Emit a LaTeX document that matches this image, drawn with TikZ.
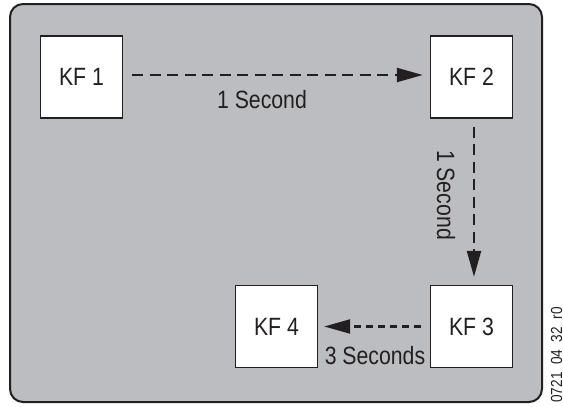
\documentclass[tikz,border=0pt]{standalone}
\usepackage{fontspec}
\setmainfont{Liberation Sans}[FakeStretch=0.85]
\usetikzlibrary{arrows.meta}
\definecolor{panel}{HTML}{BCBDC0}
\definecolor{ink}{HTML}{231F20}
\begin{document}
\begin{tikzpicture}[x=1pt,y=-1pt,
  kfbox/.style={draw=ink,line width=1.4pt,fill=white,minimum width=82pt,minimum height=82pt,inner sep=0pt,text=ink,font=\fontsize{25}{28}\selectfont},
  lbl/.style={text=ink,inner sep=0pt,font=\fontsize{25}{28}\selectfont},
  conn/.style={draw=ink,line width=2.2pt,-{Triangle[length=26pt,width=14pt]}},
  longdash/.style={dash pattern=on 11pt off 6.5pt},
  shortdash/.style={dash pattern=on 7pt off 5pt}]
\useasboundingbox (0,0) rectangle (563,407);
\draw[draw=ink,line width=2pt,fill=panel,rounded corners=13pt] (10,4) rectangle (542,402);
\node[kfbox] (kf1) at (81.5,77) {KF 1};
\node[kfbox] (kf2) at (471.5,77) {KF 2};
\node[kfbox] (kf3) at (471.5,326.5) {KF 3};
\node[kfbox] (kf4) at (276.5,326.5) {KF 4};
\draw[conn,longdash,shorten <=9pt,shorten >=7pt] ([yshift=2pt]kf1.east) -- ([yshift=2pt]kf2.west);
\draw[conn,longdash,shorten <=8pt,shorten >=8pt] ([xshift=2.5pt]kf2.south) -- ([xshift=2.5pt]kf3.north);
\draw[conn,shortdash,shorten <=9pt,shorten >=6pt] (kf3.west) -- (kf4.east);
\node[lbl] (l1) at (262,100) {1 Second};
\node[lbl,rotate=-90] (l2) at (446,195) {1 Second};
\node[lbl] (l3) at (375,356) {3 Seconds};
\node[text=ink,inner sep=0pt,rotate=90,anchor=south,font=\fontsize{16}{18}\selectfont] (code) at (565.5,355) {0721\_04\_32\_r0};
\end{tikzpicture}
\end{document}
